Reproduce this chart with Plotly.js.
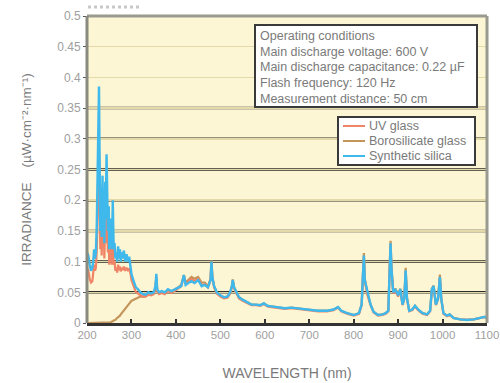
<!DOCTYPE html>
<html>
<head>
<meta charset="utf-8">
<script src="https://cdn.plot.ly/plotly-3.0.1.min.js"></script>
<style>html,body{margin:0;padding:0;background:#fff;}#chart{width:500px;height:383px;}</style>
</head>
<body>
<div id="chart"></div>
<script>
const wavelength = [200,203,206,209,212,214,216,218,220,222,224,225,227,228,229,230,232,233,235,236,238,239,241,242,244,245,246,247,249,250,252,253,255,256,258,259,260,262,264,266,268,270,272,274,276,278,280,283,286,289,292,295,298,300,305,310,315,320,326,332,338,344,350,354,356,358,362,368,375,382,390,398,405,412,418,422,428,435,442,450,458,465,472,478,480,482,486,492,500,508,516,522,526,528,531,536,542,550,560,570,580,590,598,606,615,630,645,660,680,700,720,740,755,765,772,785,800,812,818,821,823,825,828,832,838,845,855,865,872,878,881,883,885,889,894,900,905,910,914,917,920,925,932,938,945,955,965,972,976,980,985,990,994,997,1002,1010,1016,1025,1040,1055,1070,1085,1095,1100];

const syntheticSilica = [.115,.110,.095,.085,.090,.100,.120,.105,.115,.160,.250,.330,.385,.300,.200,.150,.220,.140,.240,.160,.210,.130,.230,.170,.275,.200,.250,.150,.190,.120,.170,.130,.160,.120,.200,.150,.120,.130,.105,.115,.100,.125,.105,.120,.100,.115,.105,.118,.100,.112,.100,.108,.095,.080,
.068,.058,.055,.050,.047,.046,.050,.048,.050,.060,.080,.055,.050,.052,.050,.055,.052,.055,.058,.060,.078,.062,.065,.068,.065,.070,.060,.062,.058,.070,.100,.075,.060,.050,.045,.042,.043,.050,.060,.070,.058,.050,.042,.038,.034,.030,.030,.029,.032,.028,.027,.025,.024,.025,.023,.022,.020,.020,.022,.026,.020,.016,.013,.016,.030,.080,.110,.070,.060,.045,.030,.018,.013,.014,.016,.020,.090,.130,.090,.050,.055,.045,.055,.030,.040,.086,.040,.020,.022,.028,.022,.016,.014,.020,.055,.060,.030,.040,.075,.040,.016,.012,.014,.008,.006,.005,.006,.008,.010,.007];

const uvGlass = [.090,.085,.072,.066,.068,.078,.095,.085,.090,.120,.180,.240,.280,.220,.150,.120,.160,.110,.170,.125,.150,.105,.165,.130,.200,.150,.180,.115,.140,.095,.125,.100,.120,.095,.150,.115,.095,.100,.085,.090,.082,.095,.086,.092,.084,.090,.086,.092,.085,.090,.086,.088,.080,.070,
.058,.050,.048,.045,.043,.043,.046,.045,.047,.057,.076,.052,.047,.049,.047,.052,.049,.052,.056,.060,.076,.063,.067,.072,.068,.072,.062,.063,.058,.070,.098,.074,.058,.048,.043,.040,.041,.048,.058,.068,.056,.048,.040,.036,.033,.029,.029,.028,.031,.027,.026,.024,.023,.024,.022,.021,.019,.019,.021,.025,.019,.015,.012,.015,.029,.078,.108,.068,.058,.043,.029,.017,.012,.013,.015,.019,.088,.128,.088,.048,.053,.043,.053,.029,.039,.084,.039,.019,.021,.027,.021,.015,.013,.019,.053,.058,.029,.039,.073,.039,.015,.011,.013,.008,.006,.005,.006,.008,.010,.007];

const borosilicateGlass = [0,0,0,0,0,0,0,0,0,0,0,0,0,0,0,0,0,0,0,0,0,0,0,0,0,0,0,0,0,.001,.001,.001,.002,.002,.003,.003,.004,.004,.005,.007,.008,.009,.010,.012,.014,.016,.017,.021,.024,.027,.030,.032,.034,.036,
.038,.040,.041,.043,.043,.044,.047,.046,.048,.056,.074,.052,.048,.050,.049,.053,.051,.054,.058,.062,.078,.066,.070,.075,.072,.075,.066,.066,.060,.072,.102,.076,.060,.050,.045,.042,.043,.050,.060,.071,.058,.050,.042,.038,.034,.030,.030,.029,.032,.028,.027,.025,.024,.025,.023,.022,.020,.020,.022,.026,.020,.016,.013,.016,.031,.082,.114,.072,.061,.045,.030,.018,.013,.014,.016,.020,.092,.134,.092,.051,.056,.046,.056,.030,.041,.090,.041,.020,.022,.028,.022,.016,.014,.020,.056,.061,.030,.041,.079,.041,.016,.012,.014,.008,.006,.005,.006,.008,.010,.007];

const seriesNames = ['UV glass', 'Borosilicate glass', 'Synthetic silica'];
const seriesColors = ['#f08466', '#c4955a', '#3fb9ec'];
const xTickVals = [200,300,400,500,600,700,800,900,1000,1100];
const yTickVals = [0,0.05,0.1,0.15,0.2,0.25,0.3,0.35,0.4,0.45,0.5];
const darkGrid = [0.05,0.1,0.15,0.2,0.25,0.3,0.35];
const conditionsText = ['Operating conditions','Main discharge voltage: 600 V','Main discharge capacitance: 0.22 µF','Flash frequency: 120 Hz','Measurement distance: 50 cm'];

const traces = [
  {x: wavelength, y: borosilicateGlass, name: seriesNames[1], type: 'scatter', mode: 'lines', line: {color: seriesColors[1], width: 2.2}},
  {x: wavelength, y: uvGlass, name: seriesNames[0], type: 'scatter', mode: 'lines', line: {color: seriesColors[0], width: 2.2}},
  {x: wavelength, y: syntheticSilica, name: seriesNames[2], type: 'scatter', mode: 'lines', line: {color: seriesColors[2], width: 2.4}}
];

// pixel -> paper helpers (plot area: x 87..487, y 16..323)
const px = v => (v - 87) / 400;
const py = v => (323 - v) / 307;

const shapes = darkGrid.map(v => ({type: 'line', xref: 'paper', x0: 0, x1: 1, yref: 'y', y0: v, y1: v, line: {color: '#2e2e28', width: 2.5}, layer: 'below'}));
shapes.push({type: 'line', xref: 'paper', yref: 'paper', x0: 0, x1: 1, y0: 1, y1: 1, line: {color: '#9a9a90', width: 3}});
shapes.push({type: 'line', xref: 'paper', yref: 'paper', x0: 1, x1: 1, y0: 0, y1: 1, line: {color: '#9a9a90', width: 3}});
shapes.push({type: 'line', xref: 'paper', yref: 'paper', x0: 0, x1: 0, y0: 0, y1: 1, line: {color: '#8a8a80', width: 3}});
shapes.push({type: 'line', xref: 'paper', yref: 'paper', x0: px(88), x1: px(140), y0: py(7), y1: py(7), line: {color: '#c8c8c8', width: 3, dash: 'dot'}});
// conditions box
shapes.push({type: 'rect', xref: 'paper', yref: 'paper', x0: px(255), x1: px(477), y0: py(107), y1: py(25), fillcolor: '#ffffff', line: {color: '#3a3a3a', width: 2}});
// legend box
shapes.push({type: 'rect', xref: 'paper', yref: 'paper', x0: px(338), x1: px(475), y0: py(165), y1: py(117), fillcolor: '#ffffff', line: {color: '#3a3a3a', width: 2}});

const annotations = [];
const condRows = [36, 52, 67.5, 83, 99];
conditionsText.forEach((t, i) => {
  annotations.push({xref: 'paper', yref: 'paper', x: px(258), y: py(condRows[i]), xanchor: 'left', yanchor: 'middle', text: t, showarrow: false, font: {size: 12.5, color: '#7a7a7a'}});
});
const legRows = [126, 141, 156];
seriesNames.forEach((n, i) => {
  shapes.push({type: 'line', xref: 'paper', yref: 'paper', x0: px(343), x1: px(365), y0: py(legRows[i]), y1: py(legRows[i]), line: {color: seriesColors[i], width: 2}});
  annotations.push({xref: 'paper', yref: 'paper', x: px(367), y: py(legRows[i]), xanchor: 'left', yanchor: 'middle', text: n, showarrow: false, font: {size: 12.5, color: '#7a7a7a'}});
});

const layout = {
  width: 500, height: 383,
  margin: {l: 87, r: 13, t: 16, b: 60},
  paper_bgcolor: '#ffffff',
  plot_bgcolor: '#fdf6d4',
  showlegend: false,
  font: {family: 'Liberation Sans, Arial, sans-serif', color: '#777'},
  xaxis: {
    range: [200, 1100], tickvals: xTickVals, ticktext: xTickVals.map(String),
    ticks: 'inside', ticklen: 4, tickwidth: 2, tickcolor: '#333',
    showline: true, linecolor: '#333', linewidth: 2.5, showgrid: false, zeroline: false,
    tickfont: {size: 11.5, color: '#a0a0a0'}, ticklabeloverflow: 'allow',
    title: {text: 'WAVELENGTH (nm)', font: {size: 14, color: '#7a7a7a'}, standoff: 28}
  },
  yaxis: {
    range: [0, 0.5], tickvals: yTickVals, ticktext: yTickVals.map(String),
    ticks: 'outside', ticklen: 3, tickcolor: '#555', tickwidth: 1,
    showgrid: true, gridcolor: '#e4d9a8', gridwidth: 1.5, zeroline: false, showline: false,
    tickfont: {size: 12, color: '#a0a0a0'}, ticklabeloverflow: 'allow',
    title: {text: 'IRRADIANCE    (µW·cm⁻²·nm⁻¹)', font: {size: 13.5, color: '#7a7a7a'}, standoff: 22}
  },
  shapes: shapes,
  annotations: annotations
};

Plotly.newPlot('chart', traces, layout, {displayModeBar: false, staticPlot: true});
</script>
</body>
</html>
